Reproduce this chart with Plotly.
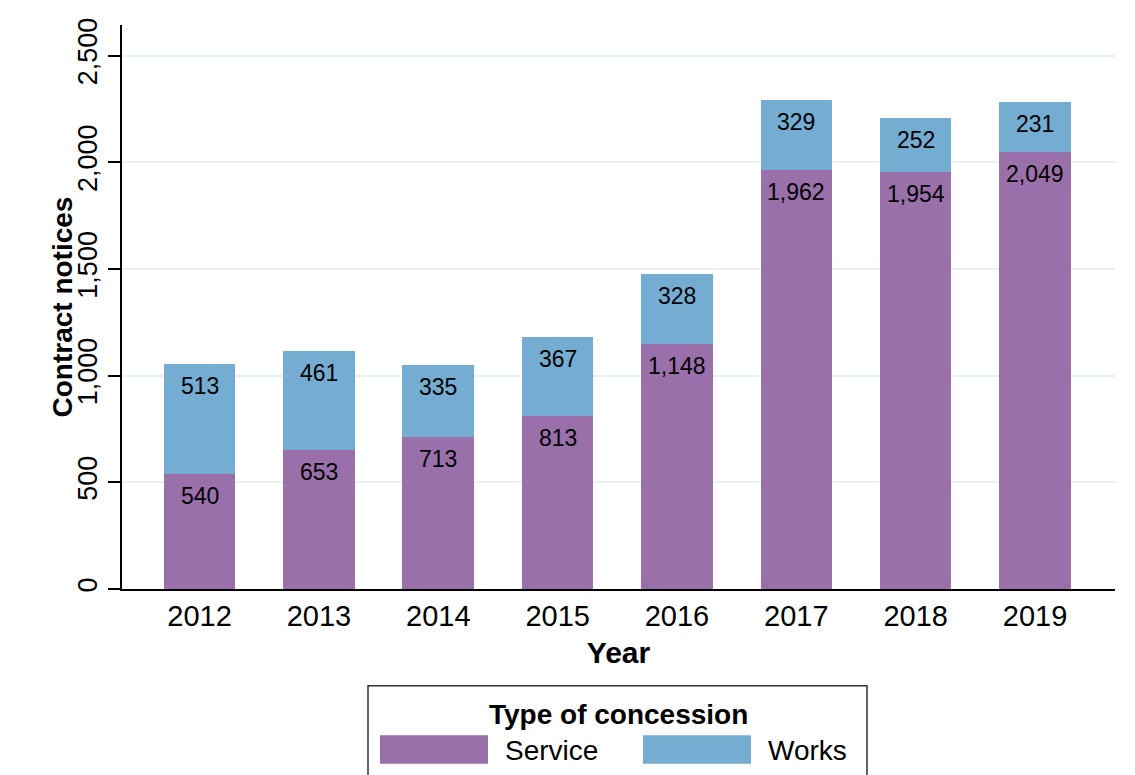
import plotly.graph_objects as go

years = ["2012", "2013", "2014", "2015", "2016", "2017", "2018", "2019"]
service = [540, 653, 713, 813, 1148, 1962, 1954, 2049]
works = [513, 461, 335, 367, 328, 329, 252, 231]
series_names = ["Service", "Works"]
y_ticks = [0, 500, 1000, 1500, 2000, 2500]
legend_title = "Type of concession"
y_title = "Contract notices"
x_title = "Year"

C_SERVICE = "#9a70aa"
C_WORKS = "#75acd2"
FONT = "Arial, Liberation Sans, sans-serif"

x = list(range(len(years)))
fig = go.Figure()
fig.add_trace(go.Bar(x=x, y=service, name=series_names[0], marker=dict(color=C_SERVICE, line=dict(width=0)), width=0.6))
fig.add_trace(go.Bar(x=x, y=works, name=series_names[1], marker=dict(color=C_WORKS, line=dict(width=0)), width=0.6))

annotations = []
for i, (s, w) in enumerate(zip(service, works)):
    annotations.append(dict(x=i, y=s, text=f"{s:,}", showarrow=False, yshift=-22, xref="x", yref="y",
                            font=dict(size=23, color="black", family=FONT)))
    annotations.append(dict(x=i, y=s + w, text=f"{w:,}", showarrow=False, yshift=-22, xref="x", yref="y",
                            font=dict(size=23, color="black", family=FONT)))

# Page has an 8px body margin; figure sized so plot area matches the reference
OFF = 8
W, H = 1135 - OFF, 775 - OFF
ml, mr, mt, mb = 122 - OFF, 20, 18 - OFF, 186
pw, ph = W - ml - mr, H - mt - mb
def px(xp):
    return (xp - OFF - ml) / pw
def py(yp):
    return (H - mb - (yp - OFF)) / ph

shapes = [
    dict(type="rect", xref="paper", yref="paper", x0=px(368), x1=px(867), y0=py(800), y1=py(687),
         line=dict(color="#333333", width=1.5), fillcolor="white", layer="above"),
    dict(type="rect", xref="paper", yref="paper", x0=px(380), x1=px(488), y0=py(766), y1=py(737),
         line=dict(width=0), fillcolor=C_SERVICE),
    dict(type="rect", xref="paper", yref="paper", x0=px(643), x1=px(751), y0=py(766), y1=py(737),
         line=dict(width=0), fillcolor=C_WORKS),
]
annotations += [
    dict(xref="paper", yref="paper", x=px(618), y=py(716), text=f"<b>{legend_title}</b>", showarrow=False,
         xanchor="center", yanchor="middle", font=dict(size=28, color="black", family=FONT)),
    dict(xref="paper", yref="paper", x=px(503), y=py(753), text=series_names[0], showarrow=False,
         xanchor="left", yanchor="middle", font=dict(size=28, color="black", family=FONT)),
    dict(xref="paper", yref="paper", x=px(766), y=py(753), text=series_names[1], showarrow=False,
         xanchor="left", yanchor="middle", font=dict(size=28, color="black", family=FONT)),
    dict(xref="paper", yref="paper", x=px(62), y=py(304), text=f"<b>{y_title}</b>", showarrow=False,
         textangle=-90, xanchor="center", yanchor="middle", font=dict(size=28, color="black", family=FONT)),
]

fig.update_layout(
    barmode="stack",
    width=W, height=H,
    margin=dict(l=ml, r=mr, t=mt, b=mb),
    plot_bgcolor="white", paper_bgcolor="white",
    showlegend=False,
    font=dict(family=FONT, color="black"),
    annotations=annotations,
    shapes=shapes,
    xaxis=dict(
        range=[-0.65, 7.67], tickmode="array", tickvals=x, ticktext=years,
        showgrid=False, zeroline=False, showline=True, linecolor="black", linewidth=1.5,
        ticks="", tickfont=dict(size=29, color="black"),
        title=dict(text=f"<b>{x_title}</b>", font=dict(size=30, color="black"), standoff=11),
    ),
    yaxis=dict(
        range=[0, 2643], tickmode="array", tickvals=y_ticks, ticktext=[f"{v:,}" for v in y_ticks],
        tickangle=-90, showgrid=True, gridcolor="#e8f0f2", gridwidth=2,
        zeroline=False, showline=True, linecolor="black", linewidth=1.5,
        ticks="outside", ticklen=12, tickcolor="black", tickwidth=1.5,
        tickfont=dict(size=27, color="black"),
    ),
)

fig.write_html("out.html")
